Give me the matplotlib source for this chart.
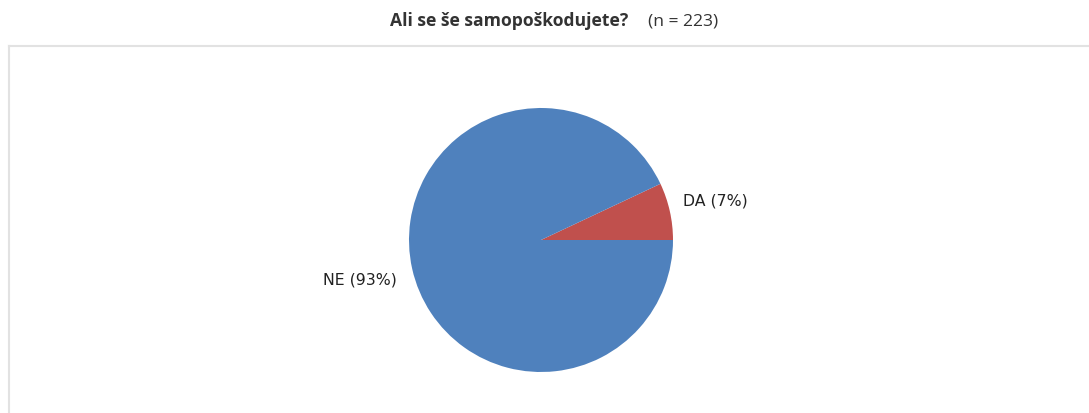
import matplotlib
matplotlib.use("Agg")
import matplotlib.pyplot as plt
from matplotlib.lines import Line2D

categories = ["DA", "NE"]
percents = [7, 93]
title_main = "Ali se še samopoškodujete?"
title_n = "(n = 223)"
colors = ["#C0504D", "#4F81BD"]

W, H = 1089, 414
fig = plt.figure(figsize=(W / 100, H / 100), dpi=100)
fig.patch.set_facecolor("white")

# border (top and left lines)
bc = "#e2e2e2"
fig.add_artist(Line2D([8.5 / W, 1088 / W], [1 - 46.5 / H, 1 - 46.5 / H],
                      transform=fig.transFigure, color=bc, lw=1.5))
fig.add_artist(Line2D([8.5 / W, 8.5 / W], [1 - 46.5 / H, 0],
                      transform=fig.transFigure, color=bc, lw=1.5))

cx, cy, r = 541, 241, 132
ax = fig.add_axes([(cx - r) / W, (H - cy - r) / H, 2 * r / W, 2 * r / H])
labels = [f"{c} ({p}%)" for c, p in zip(categories, percents)]
wedges, texts = ax.pie(percents, colors=colors, startangle=0, counterclock=True,
                       labels=labels, labeldistance=1.1,
                       textprops=dict(fontsize=11.3, color="#222222",
                                      family="DejaVu Sans"),
                       wedgeprops=dict(linewidth=0))
# label placement offsets (outside the slices)
texts[0].set_position((1.076, 0.303))
texts[0].set_ha("left")
texts[1].set_position((-1.09, -0.295))
texts[1].set_ha("right")
for t in texts:
    t.set_va("center")
ax.set_xlim(-1, 1)
ax.set_ylim(-1, 1)
ax.set_aspect("equal")
ax.axis("off")

fig.text(628 / W, 1 - 21 / H, title_main, ha="right", va="center",
         fontsize=12.6, fontweight="bold", color="#333333", family="Open Sans")
fig.text(648 / W, 1 - 21 / H, title_n, ha="left", va="center",
         fontsize=12.6, color="#333333", family="Open Sans")

fig.savefig("out.png", dpi=100)
